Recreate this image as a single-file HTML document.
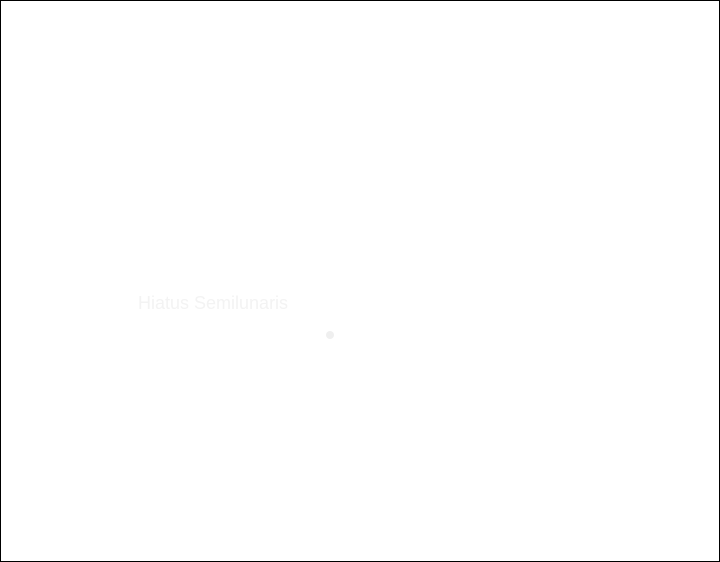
<!DOCTYPE html>
<html><head><style>
html,body{margin:0;padding:0;background:#fff;}
.frame{position:relative;width:718px;height:560px;border:1px solid #000;overflow:hidden;}
.t{position:absolute;left:137px;top:292px;font-family:"Liberation Sans",sans-serif;font-size:18px;color:#f3f3f3;white-space:nowrap;}
.d{position:absolute;left:325px;top:330px;width:8px;height:8px;border-radius:50%;background:#efefef;}
</style></head><body>
<div class="frame">
<div class="t">Hiatus Semilunaris</div>
<div class="d"></div>
</div>
</body></html>
